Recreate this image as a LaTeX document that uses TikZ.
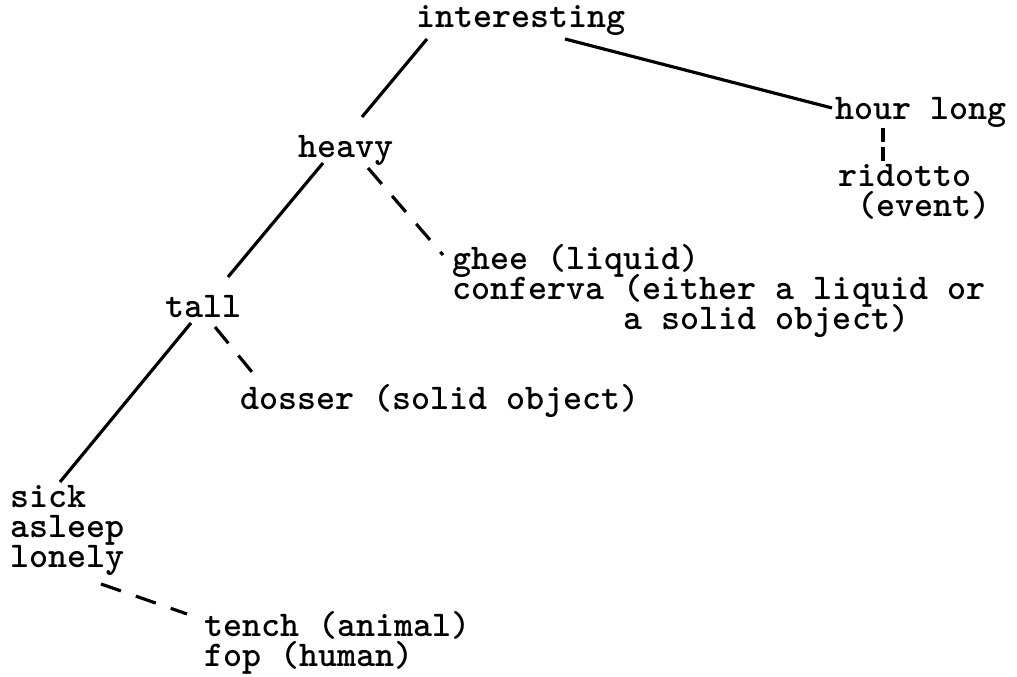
\documentclass[tikz,border=0pt]{standalone}
\usetikzlibrary{calc}
\newcommand{\wordfont}{\ttfamily\bfseries\fontsize{10.3}{8.54}\selectfont\lineskiplimit=-10pt\relax}

\begin{document}
\begin{tikzpicture}[x=0.01cm,y=-0.01cm,
    word/.style={anchor=base west,inner sep=0pt,align=left,font=\wordfont},
    link/.style={line width=0.9pt},
    maybe/.style={line width=0.9pt,dash pattern=on 6pt off 4.5pt}]
    \useasboundingbox (0,0) rectangle (1017,677);
    \node[word] (interesting) at (416,28) {interesting};
    \node[word] (heavy) at (298,158) {heavy};
    \node[word] (hour) at (835,120) {hour long};
    \node[word] (ridotto) at (838,217) {ridotto\\\hphantom{x}(event)};
    \node[word] (tall) at (165,318) {tall};
    \node[word] (ghee) at (452,330) {ghee (liquid)\\conferva (either a liquid or\\\hphantom{xxxxxxxxx}a solid object)};
    \node[word] (dosser) at (240,410) {dosser (solid object)};
    \node[word] (sick) at (10,568) {sick\\asleep\\lonely};
    \node[word] (tench) at (204,667) {tench (animal)\\fop (human)};
    \draw[link] ($(interesting.base west)+(11,11)$) -- ($(heavy.base west)+(64,-41)$);
    \draw[link] ($(interesting.base west)+(149,11)$) -- ($(hour.base west)+(-3,-12)$);
    \draw[maybe,dash pattern=on 4pt off 1.5pt] ($(hour.base west)+(48,8)$) -- ($(ridotto.base west)+(45,-55)$);
    \draw[link] ($(heavy.base west)+(25,5)$) -- ($(tall.base west)+(63,-41)$);
    \draw[maybe] ($(heavy.base west)+(70,10)$) -- ($(ghee.base west)+(-9,-75)$);
    \draw[link] ($(tall.base west)+(26,5)$) -- ($(sick.base west)+(50,-86)$);
    \draw[maybe] ($(tall.base west)+(50,9)$) -- ($(dosser.base west)+(21,-27)$);
    \draw[maybe] ($(sick.base west)+(91,16)$) -- ($(tench.base west)+(-17,-53)$);
\end{tikzpicture}
\end{document}
